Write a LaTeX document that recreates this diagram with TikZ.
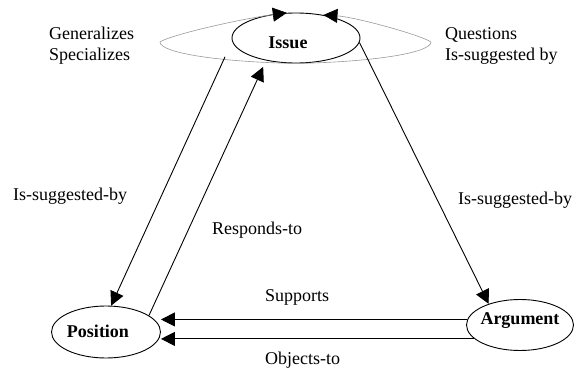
\documentclass[tikz,border=0pt]{standalone}
\usepackage{fontspec}
\setmainfont{Liberation Serif}
\usetikzlibrary{shapes.geometric}
\usetikzlibrary{arrows.meta}

\tikzset{
  topic/.style={draw, ellipse, line width=0.9pt, inner sep=0pt},
  topictext/.style={font=\fontsize{18}{21}\selectfont\bfseries},
  rel/.style={line width=0.9pt, -{Triangle[length=14pt,width=14pt]}},
  grayloop/.style={draw=gray!80, line width=0.6pt, -{Triangle[length=14pt,width=14pt,color=black]}},
  txt/.style={font=\fontsize{18}{21}\selectfont, inner sep=0pt}
}

\begin{document}
\begin{tikzpicture}[x=1pt, y=-1pt]
            % Frame to fix the page size
            \useasboundingbox (0,0) rectangle (574,372);
            % Topics
            \node[topic, minimum width=128pt, minimum height=50pt, label={[topictext, xshift=-8pt, yshift=-5pt]center:Issue}]   (iss) at (296,38)  {};
            \node[topic, minimum width=109pt, minimum height=52pt, label={[topictext, xshift=-8pt, yshift=1pt]center:Position}] (pos) at (106,332) {};
            \node[topic, minimum width=107pt, minimum height=51pt, label={[topictext, yshift=4pt]center:Argument}]               (arg) at (520,325) {};
            % Issue onto itself
            \draw[grayloop] (iss.south) .. controls (220,62) and (160,53) .. (160,42) .. controls (170,35) and (240,19) .. (iss.110);
            \draw[grayloop] (iss.south) .. controls (372,62) and (431,53) .. (431,42) .. controls (421,35) and (355,17) .. (iss.40);
            % Links between topics
            \draw[rel, shorten <=17pt] (iss.183) -- (pos.79);
            \draw[rel, shorten >=7pt]  (pos.21)  -- (iss.217);
            \draw[rel]                 (iss.356) -- (arg.146);
            \draw[rel]                 (arg.174) -- (arg.174 -| pos.east);
            \draw[rel]                 (arg.197) -- (arg.197 -| pos.east);
            % Link names
            \node[txt, align=left, anchor=north west] (gen)  at (49,27)     {Generalizes\\Specializes};
            \node[txt, align=left, anchor=north west] (que)  at (445,27)    {Questions\\Is-suggested by};
            \node[txt, anchor=base west]              (sugl) at (13,200)    {Is-suggested-by};
            \node[txt, anchor=base west]              (resp) at (212,234)   {Responds-to};
            \node[txt, anchor=base west]              (sugr) at (458,204)   {Is-suggested-by};
            \node[txt, anchor=base west]              (sup)  at (265,301.7) {Supports};
            \node[txt, anchor=base west]              (obj)  at (265,364)   {Objects-to};
\end{tikzpicture}
\end{document}
